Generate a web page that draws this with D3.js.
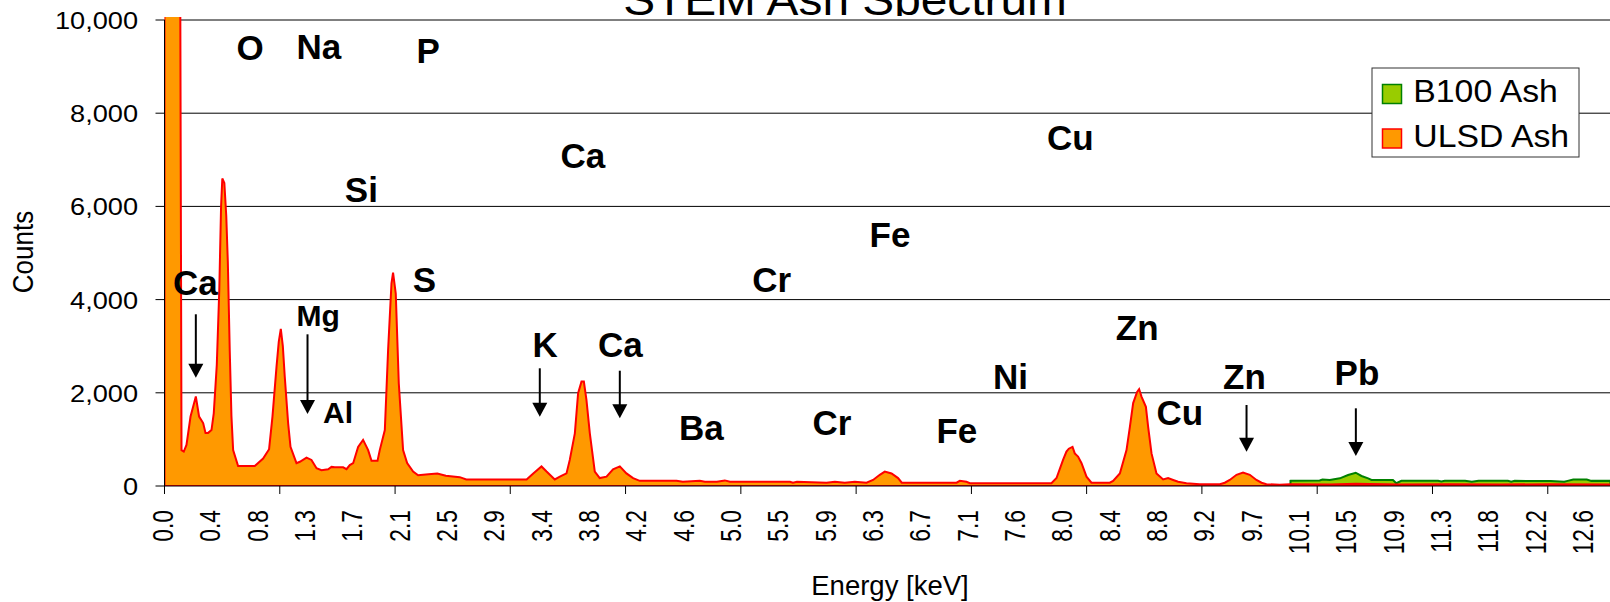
<!DOCTYPE html>
<html>
<head>
<meta charset="utf-8">
<title>STEM Ash Spectrum</title>
<script src="https://cdn.jsdelivr.net/npm/d3@7"></script>
<style>
body { margin: 0; background: #fff; }
text { font-family: "Liberation Sans", Arial, sans-serif; fill: #000; }
</style>
</head>
<body>
<div id="chart"></div>
<script>
var w = 1610, h = 602;

var title = 'STEM Ash Spectrum';
var seriesNames = ['B100 Ash', 'ULSD Ash'];

// ULSD ash spectrum (keV / counts)
var ulsdEnergy = [0.000, 0.118, 0.151, 0.171, 0.195, 0.231, 0.278, 0.307, 0.343, 0.364,
  0.387, 0.417, 0.437, 0.464, 0.486, 0.502, 0.513, 0.531, 0.548, 0.562,
  0.579, 0.594, 0.609, 0.653, 0.801, 0.875, 0.928, 0.958, 0.994, 1.014,
  1.032, 1.050, 1.067, 1.097, 1.118, 1.171, 1.201, 1.260, 1.304, 1.349,
  1.393, 1.452, 1.482, 1.511, 1.585, 1.615, 1.644, 1.674, 1.718, 1.762,
  1.807, 1.837, 1.890, 1.910, 1.955, 1.984, 2.014, 2.028, 2.052, 2.079,
  2.117, 2.153, 2.206, 2.250, 2.342, 2.421, 2.496, 2.620, 2.678, 3.213,
  3.272, 3.345, 3.390, 3.463, 3.508, 3.567, 3.596, 3.641, 3.670, 3.700,
  3.721, 3.744, 3.774, 3.818, 3.862, 3.922, 3.980, 4.040, 4.099, 4.158,
  4.217, 4.543, 4.599, 4.750, 4.795, 4.901, 4.972, 5.017, 5.550, 5.576,
  5.612, 5.874, 5.948, 6.036, 6.125, 6.229, 6.287, 6.347, 6.391, 6.451,
  6.509, 6.542, 7.028, 7.057, 7.116, 7.146, 7.870, 7.915, 7.973, 8.003,
  8.024, 8.057, 8.077, 8.106, 8.137, 8.181, 8.225, 8.388, 8.417, 8.477,
  8.536, 8.566, 8.595, 8.630, 8.648, 8.669, 8.708, 8.728, 8.758, 8.802,
  8.861, 8.905, 8.950, 8.994, 9.068, 9.186, 9.364, 9.408, 9.452, 9.512,
  9.570, 9.630, 9.689, 9.734, 9.778, 9.896, 9.985, 10.340, 10.570, 10.960,
  11.404, 11.848, 12.292, 12.830];
var ulsdCounts = [30000, 30000, 770, 740, 880, 1490, 1920, 1490, 1350, 1140,
  1140, 1200, 1560, 2600, 4200, 6000, 6600, 6500, 5800, 4800,
  2900, 1500, 770, 430, 430, 590, 790, 1490, 2560, 3100,
  3370, 3000, 2350, 1350, 840, 490, 520, 610, 560, 380,
  340, 360, 410, 400, 400, 360, 450, 490, 840, 990,
  770, 540, 540, 770, 1200, 2920, 4350, 4580, 4130, 2200,
  770, 490, 310, 230, 250, 270, 220, 190, 140, 140,
  270, 420, 310, 140, 200, 270, 560, 1130, 1990, 2240,
  2240, 1850, 1130, 310, 170, 200, 360, 420, 270, 170,
  110, 110, 90, 110, 90, 90, 120, 90, 90, 70,
  90, 70, 90, 70, 90, 70, 130, 240, 310, 270,
  170, 70, 70, 110, 90, 60, 60, 170, 560, 740,
  800, 840, 700, 630, 490, 200, 70, 70, 110, 270,
  770, 1270, 1780, 2020, 2080, 1920, 1700, 1270, 700, 270,
  140, 170, 130, 90, 60, 40, 40, 70, 130, 240,
  290, 240, 130, 70, 40, 25, 40, 30, 50, 30,
  40, 30, 40, 30];

// B100 ash spectrum, only visible above ~10 keV
var b100Energy = [9.991, 10.250, 10.275, 10.340, 10.429, 10.502, 10.570, 10.621, 10.680, 10.710,
  10.900, 10.930, 10.975, 11.300, 11.330, 11.360, 11.540, 11.600, 11.660, 11.920,
  11.950, 11.980, 12.300, 12.420, 12.450, 12.500, 12.620, 12.660, 12.830];
var b100Counts = [110, 120, 140, 130, 165, 235, 285, 215, 165, 130,
  130, 60, 110, 110, 95, 110, 110, 90, 110, 110,
  90, 110, 105, 90, 110, 140, 140, 110, 115];

var yTicks = [0, 2000, 4000, 6000, 8000, 10000];
var xTickLabels = ['0.0', '0.4', '0.8', '1.3', '1.7', '2.1', '2.5', '2.9', '3.4', '3.8',
  '4.2', '4.6', '5.0', '5.5', '5.9', '6.3', '6.7', '7.1', '7.6', '8.0',
  '8.4', '8.8', '9.2', '9.7', '10.1', '10.5', '10.9', '11.3', '11.8', '12.2', '12.6'];
var xLabelEnergy = [0, 0.42, 0.84, 1.26, 1.68, 2.10, 2.52, 2.94, 3.36, 3.78,
  4.20, 4.62, 5.04, 5.46, 5.88, 6.30, 6.72, 7.14, 7.56, 7.98,
  8.40, 8.82, 9.24, 9.66, 10.08, 10.50, 10.92, 11.34, 11.76, 12.18, 12.60];
var xTickMarks = [0, 1.023, 2.046, 3.068, 4.091, 5.114, 6.137, 7.160, 8.182, 9.205,
  10.228, 11.251, 12.274];

// element labels (left edge energy, baseline counts)
var peakNames = ['O', 'Na', 'P', 'Si', 'Ca', 'Cu', 'Fe', 'Cr', 'Ca', 'S', 'Mg', 'Al',
  'K', 'Ca', 'Ba', 'Cr', 'Fe', 'Ni', 'Zn', 'Cu', 'Zn', 'Pb'];
var peakEnergy = [0.639, 1.171, 2.236, 1.600, 3.513, 7.831, 6.256, 5.216, 0.076, 2.203, 1.171, 1.407,
  3.265, 3.847, 4.566, 5.750, 6.850, 7.352, 8.441, 8.802, 9.393, 10.382];
var peakCounts = [9142, 9157, 9084, 6101, 6824, 7210, 5129, 4163, 4099, 4170, 3433, 1345,
  2775, 2775, 987, 1094, 916, 2075, 3133, 1309, 2075, 2167];
var peakSize = [35, 35, 35, 35, 35, 35, 35, 35, 35, 35, 30, 30,
  35, 35, 35, 35, 35, 35, 35, 35, 35, 35];

// arrows: energy, top and tip in counts
var arrowEnergy = [0.278, 1.269, 3.330, 4.040, 9.601, 10.571];
var arrowTop = [3685, 3255, 2526, 2474, 1738, 1667];
var arrowTip = [2324, 1545, 1487, 1453, 736, 644];

var svg = d3.select('#chart').append('svg').attr('width', w).attr('height', h);

var x = d3.scaleLinear().domain([0, 13]).range([164.5, 164.5 + 13 * 112.7]);
var y = d3.scaleLinear().domain([0, 10000]).range([486, 20]);

// title sits behind the plot area, only its lower part shows
svg.append('text')
  .attr('transform', 'translate(845,15) scale(1.087,1)')
  .attr('text-anchor', 'middle')
  .style('font-size', '44px')
  .text(title);

svg.append('rect')
  .attr('x', x(0)).attr('y', 16)
  .attr('width', w).attr('height', y(0) - 16)
  .attr('fill', '#fff');

svg.append('clipPath').attr('id', 'plot')
  .append('rect')
  .attr('x', x(0)).attr('y', 17)
  .attr('width', w).attr('height', y(0) - 17);

svg.selectAll('line.grid')
  .data(yTicks.filter(function(d) { return d > 0; }))
  .enter()
  .append('line')
  .attr('class', 'grid')
  .attr('x1', x(0)).attr('x2', w)
  .attr('y1', function(d) { return y(d); })
  .attr('y2', function(d) { return y(d); })
  .attr('stroke', '#000');

var ulsd = ulsdEnergy.map(function(e, i) { return {e: e, c: ulsdCounts[i]}; });
var b100 = b100Energy.map(function(e, i) { return {e: e, c: b100Counts[i]}; });

var area = d3.area()
  .x(function(d) { return x(d.e); })
  .y0(y(0))
  .y1(function(d) { return y(d.c); });

var plot = svg.append('g').attr('clip-path', 'url(#plot)');
plot.append('path').datum(b100)
  .attr('d', area)
  .attr('fill', '#99CC00')
  .attr('stroke', '#008000')
  .attr('stroke-width', 2);
plot.append('path').datum(ulsd)
  .attr('d', area)
  .attr('fill', '#FF9900')
  .attr('stroke', '#FF0000')
  .attr('stroke-width', 2);

// y axis
var yAxis = svg.append('g')
  .attr('transform', 'translate(' + x(0) + ',0)')
  .call(d3.axisLeft(y).tickValues(yTicks).tickFormat(d3.format(',')).tickSize(9).tickSizeOuter(0).offset(0));
yAxis.attr('font-family', null).attr('font-size', null);
yAxis.select('.domain').attr('stroke', '#000');
yAxis.selectAll('.tick line').attr('stroke', '#000');
yAxis.selectAll('text')
  .attr('x', -26.5 / 1.1)
  .attr('dy', '0.36em')
  .attr('transform', 'scale(1.1,1)')
  .style('font-size', '24.7px');

// x axis: tick marks and labels have different spacing
var xAxis = svg.append('g')
  .attr('transform', 'translate(0,' + y(0) + ')')
  .call(d3.axisBottom(x).tickValues(xTickMarks).tickFormat('').tickSize(8).tickSizeOuter(0).offset(0));
xAxis.select('.domain').attr('stroke', '#000');
xAxis.selectAll('.tick line').attr('stroke', '#000');

var xLab = svg.append('g')
  .attr('transform', 'translate(0,' + y(0) + ')')
  .call(d3.axisBottom(x).tickValues(xLabelEnergy)
    .tickFormat(function(d) { return xTickLabels[xLabelEnergy.indexOf(d)]; })
    .tickSize(0).offset(0));
xLab.attr('font-family', null).attr('font-size', null);
xLab.select('.domain').remove();
xLab.selectAll('text')
  .attr('y', 0).attr('dy', null)
  .attr('text-anchor', 'end')
  .attr('transform', 'translate(8.6,24) rotate(-90) scale(1,1.27)')
  .style('font-size', '22.8px');

svg.append('text')
  .attr('x', 890).attr('y', 595)
  .attr('text-anchor', 'middle')
  .style('font-size', '27.5px')
  .text('Energy [keV]');

svg.append('text')
  .attr('transform', 'translate(33,252) rotate(-90) scale(1,1.11)')
  .attr('text-anchor', 'middle')
  .style('font-size', '26px')
  .text('Counts');

// element labels
svg.selectAll('text.peak')
  .data(peakNames)
  .enter()
  .append('text')
  .attr('class', 'peak')
  .attr('x', function(d, i) { return x(peakEnergy[i]); })
  .attr('y', function(d, i) { return y(peakCounts[i]); })
  .style('font-size', function(d, i) { return peakSize[i] + 'px'; })
  .style('font-weight', 'bold')
  .text(function(d) { return d; });

var arrows = svg.selectAll('g.arrow')
  .data(arrowEnergy)
  .enter()
  .append('g')
  .attr('class', 'arrow');
arrows.append('line')
  .attr('x1', function(d) { return x(d); })
  .attr('x2', function(d) { return x(d); })
  .attr('y1', function(d, i) { return y(arrowTop[i]); })
  .attr('y2', function(d, i) { return y(arrowTip[i]) - 10; })
  .attr('stroke', '#000')
  .attr('stroke-width', 2);
arrows.append('path')
  .attr('d', function(d, i) {
    var ax = x(d), ay = y(arrowTip[i]);
    return 'M' + (ax - 7.5) + ',' + (ay - 14) + 'L' + (ax + 7.5) + ',' + (ay - 14) + 'L' + ax + ',' + ay + 'Z';
  })
  .attr('fill', '#000');

// legend
var legend = svg.append('g');
legend.append('rect')
  .attr('x', 1372).attr('y', 68)
  .attr('width', 207).attr('height', 89)
  .attr('fill', '#fff')
  .attr('stroke', '#333');
var legendFill = ['#99CC00', '#FF9900'];
var legendStroke = ['#008000', '#FF0000'];
seriesNames.forEach(function(name, i) {
  legend.append('rect')
    .attr('x', 1382.5).attr('y', 84.5 + i * 44.5)
    .attr('width', 19).attr('height', 19)
    .attr('fill', legendFill[i])
    .attr('stroke', legendStroke[i])
    .attr('stroke-width', 1.5);
  legend.append('text')
    .attr('transform', 'translate(1413.3,' + (102.3 + i * 44.5) + ') scale(1.09,1)')
    .style('font-size', '31px')
    .text(name);
});
</script>
</body>
</html>
